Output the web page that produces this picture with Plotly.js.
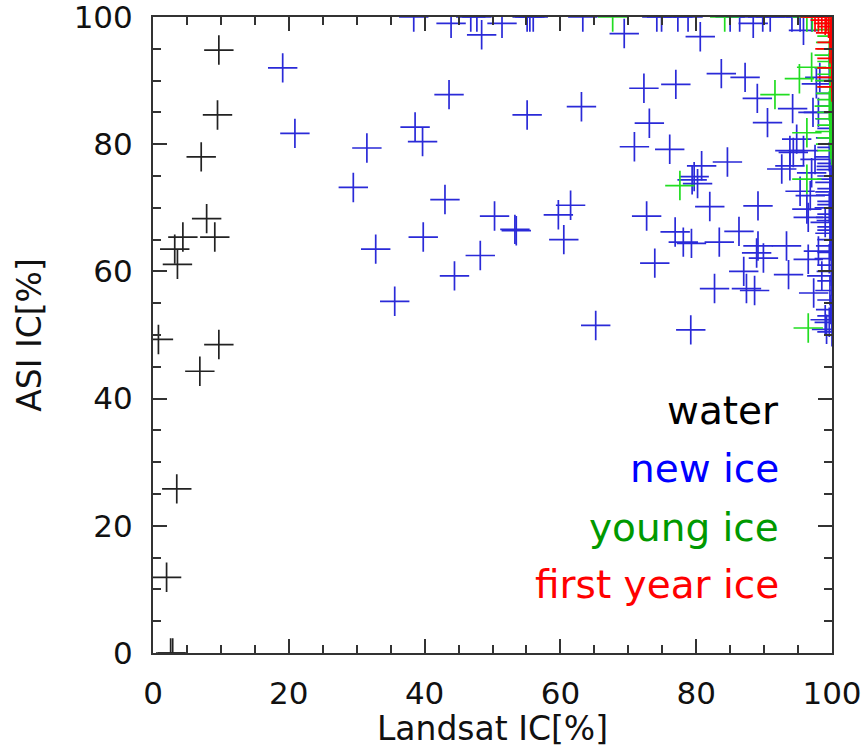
<!DOCTYPE html>
<html>
<head>
<meta charset="utf-8">
<script src="https://cdn.plot.ly/plotly-3.0.1.min.js"></script>
<style>html,body{margin:0;padding:0;background:#fff;}#chart{width:861px;height:748px;}</style>
</head>
<body>
<div id="chart"></div>
<script>
// ---- data (Landsat IC [%] vs ASI IC [%]) ----
const waterX = [9.7, 9.5, 7.1, 7.9, 9.1, 4.4, 3.2, 3.6, 0.8, 9.7, 6.9, 3.5, 2.0, 2.6, 2.9];
const waterY = [94.8, 84.6, 78.0, 68.3, 65.4, 65.4, 63.5, 61.1, 49.3, 48.5, 44.3, 25.8, 11.9, 0, 0];

const newIceX = [19.1, 20.9, 31.5, 29.5, 38.6, 39.7, 32.8, 39.8, 35.6, 43.6, 43.0, 44.4, 48.2, 48.4, 50.3,
  53.3, 53.5, 55.1, 59.7, 61.5, 60.5, 63.1, 65.2, 69.4, 70.9, 72.3, 73.1, 72.7, 73.9, 76.1,
  77.0, 76.9, 78.1, 79.3, 79.2, 80.8, 79.7, 80.2, 79.4, 82.0, 83.4, 83.7, 84.6, 82.7, 86.3,
  87.0, 87.2, 87.4, 88.6, 89.0, 89.1, 89.1, 88.9, 89.9, 90.5, 80.6, 94.2, 95.8, 97.7, 98.2,
  94.8, 93.8, 92.6, 93.8, 95.3, 93.3, 93.6, 96.5, 97.3, 98.5, 98.0, 99.0, 99.2, 94.3, 95.8,
  97.5, 97.0, 96.8, 96.3, 96.5, 99.0, 97.2, 98.0,
  // top edge (clipped at 100)
  38.4, 43.9, 46.8, 47.7, 51.4, 55.1, 55.5, 56.0, 63.3, 74.2, 74.9, 77.3, 78.8, 85.0, 86.4,
  88.4, 89.8, 90.9, 94.1, 95.3, 97.0,
  // right edge (clipped at 100)
  99.6, 100, 99.8, 100, 99.7, 100, 99.8, 100, 99.6, 100, 99.9, 100, 99.7, 100, 99.8,
  100, 99.6, 100, 99.9, 100, 99.7, 100, 99.8, 100, 99.6, 100, 99.9, 100, 99.7, 100,
  99.8, 100, 99.6, 100, 99.9, 100, 99.7, 100, 99.8, 100];
const newIceY = [92.0, 81.7, 79.4, 73.2, 82.7, 80.4, 63.5, 65.4, 55.3, 87.8, 71.3, 59.3, 62.5, 97.2, 68.7,
  66.6, 66.4, 84.6, 68.9, 70.4, 65.0, 85.9, 51.5, 97.4, 79.6, 88.8, 83.3, 68.7, 61.3, 79.2,
  89.4, 66.2, 64.6, 64.4, 50.8, 76.6, 74.9, 73.8, 74.4, 70.2, 64.6, 91.1, 77.2, 57.3, 66.3,
  60.0, 90.5, 57.3, 57.0, 87.2, 70.3, 64.0, 62.9, 62.1, 83.4, 96.9, 85.6, 97.9, 89.5, 90.5,
  80.8, 79.0, 76.1, 76.6, 72.6, 64.0, 59.5, 61.9, 56.6, 59.3, 63.2, 52.4, 50.9, 78.7, 79.0,
  77.6, 75.5, 71.9, 69.8, 68.5, 67.7, 85.0, 85.0,
  100, 99.0, 100, 100, 99.0, 100, 100, 100, 100, 100, 100, 100, 100, 100, 100,
  99.0, 100, 100, 100, 100, 100,
  92.0, 90.0, 88.0, 86.0, 84.0, 82.5, 81.0, 79.5, 78.0, 77.0, 76.0, 75.0, 74.0, 73.0, 72.0,
  71.0, 70.0, 69.0, 68.0, 67.0, 66.0, 65.0, 64.0, 63.0, 62.0, 61.0, 60.0, 58.5, 57.0, 55.5,
  54.0, 53.0, 52.0, 50.5, 76.5, 74.5, 72.5, 70.5, 68.5, 66.5];

const youngIceX = [77.6, 91.6, 95.2, 97.0, 96.3, 96.5, 96.3, 67.7, 84.2, 96.3, 97.1,
  100, 99.7, 100, 99.8, 100, 99.6, 100, 99.8, 100, 99.7, 100, 99.8, 100, 99.6, 100, 99.8,
  100, 99.7, 100, 99.8, 100];
const youngIceY = [73.5, 87.8, 90.3, 92.1, 74.5, 51.1, 81.8, 100, 100, 100, 100,
  99.0, 98.0, 97.0, 96.0, 95.0, 94.0, 93.0, 92.0, 91.0, 90.0, 89.0, 88.0, 87.0, 86.0, 85.0,
  84.0, 83.0, 82.0, 81.0, 80.0, 79.0];

const firstYearIceX = [98.0, 98.5, 99.2, 100, 99.0, 99.5, 100, 99.8, 100, 99.7, 100, 100, 100, 100, 97.5];
const firstYearIceY = [100, 100, 100, 100, 99.5, 99.0, 98.5, 97.5, 96.0, 95.0, 93.5, 92.0, 90.5, 89.0, 100];

const seriesNames = ['water', 'new ice', 'young ice', 'first year ice'];
const markerColors = ['#222222', '#2a2ad8', '#22dd22', '#ff0000'];
const labelColors = ['#000000', '#0000ff', '#009900', '#ff0000'];
const tickVals = [0, 20, 40, 60, 80, 100];

const xs = [waterX, newIceX, youngIceX, firstYearIceX];
const ys = [waterY, newIceY, youngIceY, firstYearIceY];

const traces = xs.map((x, i) => ({
  type: 'scatter', mode: 'markers', name: seriesNames[i],
  x: x, y: ys[i], cliponaxis: true,
  marker: { symbol: 'cross-thin-open', size: 21, color: markerColors[i],
            line: { width: 1.7, color: markerColors[i] } }
}));

const FONT = 'DejaVu Sans, Liberation Sans, Arial, sans-serif';
const tickFont = { family: FONT, size: 31, color: '#111' };
const axisCommon = {
  range: [0, 100], tickvals: tickVals, ticktext: tickVals.map(String),
  showgrid: false, zeroline: false, showline: true, linecolor: '#333', linewidth: 2,
  mirror: 'ticks', ticks: 'inside', ticklen: 14, tickwidth: 2, tickcolor: '#333',
  minor: { dtick: 5, tick0: 0, ticks: 'inside', ticklen: 8, tickwidth: 2, tickcolor: '#333', showgrid: false },
  tickfont: tickFont, fixedrange: true, ticklabeloverflow: 'allow'
};

const annotations = seriesNames.map((t, i) => ({
  text: t, xref: 'paper', yref: 'paper', x: 0.925, y: [0.382, 0.290, 0.197, 0.108][i],
  xanchor: 'right', yanchor: 'middle', showarrow: false,
  font: { family: FONT, size: 39, color: labelColors[i] }
}));

const layout = {
  width: 861, height: 748,
  margin: { l: 153, r: 29, t: 17, b: 95 },
  paper_bgcolor: '#ffffff', plot_bgcolor: '#ffffff',
  showlegend: false,
  xaxis: Object.assign({}, axisCommon, {
    ticklabelstandoff: 12,
    title: { text: 'Landsat IC[%]', font: { family: FONT, size: 33, color: '#111' }, standoff: 4 }
  }),
  yaxis: Object.assign({}, axisCommon, {
    ticklabelstandoff: 12,
    title: { text: 'ASI IC[%]', font: { family: FONT, size: 33, color: '#111' }, standoff: 22 }
  }),
  annotations: annotations
};

Plotly.newPlot('chart', traces, layout, { staticPlot: true, displayModeBar: false });
</script>
</body>
</html>
